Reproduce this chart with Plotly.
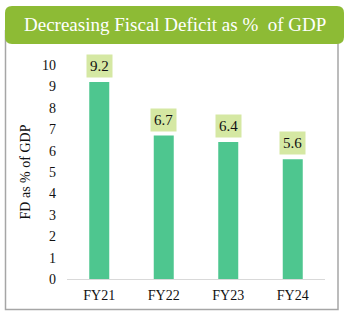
import plotly.graph_objects as go

categories = ["FY21", "FY22", "FY23", "FY24"]
values = [9.2, 6.7, 6.4, 5.6]
labels = ["9.2", "6.7", "6.4", "5.6"]
title_text = "Decreasing Fiscal Deficit as %  of GDP"
y_title = "FD as % of GDP"

W, H = 353, 322
L, R, T, B = 67, 325, 65, 279  # plot area in px

def px(x):
    return (x - L) / (R - L)

def py(y):
    return (B - y) / (B - T)

SERIF = "Liberation Serif, Times New Roman, serif"

fig = go.Figure()
fig.add_trace(go.Bar(x=categories, y=values, marker=dict(color="#4EC68F", line=dict(width=0)),
                     width=0.31, hoverinfo="skip"))

for c, v, t in zip(categories, values, labels):
    fig.add_annotation(x=c, y=v, text=t, showarrow=False, yanchor="bottom", yshift=4,
                       bgcolor="#D5E8A3", borderpad=3,
                       font=dict(family=SERIF, size=15, color="#111111"))

# panel border
x0, x1, y0, y1 = px(5.5), px(338), py(309.5), py(30)
fig.add_shape(type="path", xref="paper", yref="paper",
              path=f"M {x0} {y1} L {x0} {y0} L {x1} {y0} L {x1} {y1}",
              line=dict(color="#A6A6A6", width=1.5), layer="below")

# rounded title box
r = 7
bx0, bx1, by0, by1 = 5, 344, 6, 44
def P(x, y):
    return f"{px(x)} {py(y)}"
path = (f"M {P(bx0+r, by0)} L {P(bx1-r, by0)} Q {P(bx1, by0)} {P(bx1, by0+r)} "
        f"L {P(bx1, by1-r)} Q {P(bx1, by1)} {P(bx1-r, by1)} "
        f"L {P(bx0+r, by1)} Q {P(bx0, by1)} {P(bx0, by1-r)} "
        f"L {P(bx0, by0+r)} Q {P(bx0, by0)} {P(bx0+r, by0)} Z")
fig.add_shape(type="path", xref="paper", yref="paper", path=path,
              fillcolor="#8DBB35", line=dict(width=0))
fig.add_annotation(xref="paper", yref="paper", x=px((bx0+bx1)/2), y=py((by0+by1)/2),
                   text=title_text, showarrow=False, xanchor="center", yanchor="middle",
                   font=dict(family=SERIF, size=19, color="white"))

fig.update_layout(
    width=W, height=H, margin=dict(l=L, r=W-R, t=T, b=H-B),
    paper_bgcolor="white", plot_bgcolor="white", showlegend=False,
    bargap=0.69,
    xaxis=dict(showline=True, linecolor="#D9D9D9", linewidth=1, showgrid=False, ticks="",
               ticklabelstandoff=3,
               tickfont=dict(family=SERIF, size=14, color="#111111"), fixedrange=True),
    yaxis=dict(range=[0, 10], dtick=1, showline=False, showgrid=False, zeroline=False, ticks="",
               ticklabelstandoff=10,
               tickfont=dict(family=SERIF, size=14, color="#111111"), fixedrange=True,
               title=dict(text=y_title, font=dict(family=SERIF, size=14, color="#111111"), standoff=8)),
)

fig.write_html("out.html")
